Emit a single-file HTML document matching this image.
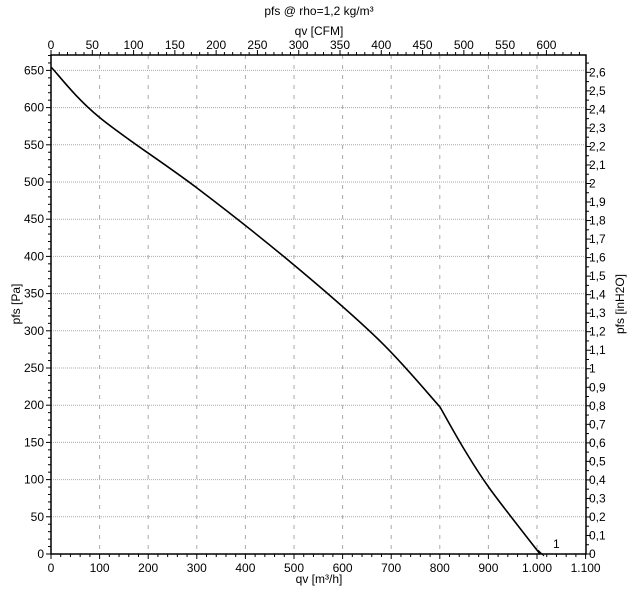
<!DOCTYPE html>
<html><head><style>
body{margin:0;background:#fff;}
svg{display:block;font-family:"Liberation Sans",Arial,sans-serif;}
</style></head><body>
<svg width="639" height="602" viewBox="0 0 639 602" xmlns="http://www.w3.org/2000/svg">
<rect width="639" height="602" fill="#fff"/>
<g id="grid" stroke="#aaa" stroke-width="1"></g>
<text x="319" y="15" font-size="12" text-anchor="middle">pfs @ rho=1,2 kg/m³</text>
<text x="319" y="35" font-size="12" text-anchor="middle">qv [CFM]</text>
<text x="319" y="583" font-size="12" text-anchor="middle">qv [m³/h]</text>
<text transform="translate(20,304) rotate(-90)" font-size="12" text-anchor="middle">pfs [Pa]</text>
<text transform="translate(624,304) rotate(-90)" font-size="12" text-anchor="middle">pfs [inH2O]</text>
<g id="ax"></g>
<path id="curve" fill="none" stroke="#000" stroke-width="1.6" d=""/>
<path d="M538,550 L544,556" stroke="#000" stroke-width="1"/>
<text x="553" y="548" font-size="12">1</text>
<rect x="51" y="55" width="535" height="499" fill="none" stroke="#000" stroke-width="1.5"/>
</svg>
<script>
const ns="http://www.w3.org/2000/svg";
const g=document.getElementById('grid'),ax=document.getElementById('ax');
function el(p,t,a,txt){const e=document.createElementNS(ns,t);for(const k in a)e.setAttribute(k,a[k]);if(txt!==undefined)e.textContent=txt;p.appendChild(e);return e;}
const X=q=>51+q*0.486, Y=p=>554-p*0.744;
for(let q=100;q<=1000;q+=100){el(g,'line',{x1:X(q),x2:X(q),y1:55,y2:554,'stroke-dasharray':'4,6'});}
for(let p=50;p<=650;p+=50){el(g,'line',{x1:51,x2:586,y1:Y(p),y2:Y(p),'stroke-dasharray':'1,1'});}
for(let q=0;q<=1100;q+=20){const big=q%100==0;el(ax,'line',{x1:X(q),x2:X(q),y1:554,y2:554+(big?5:3),stroke:'#000'});}
for(let q=0;q<=1100;q+=100){el(ax,'text',{x:X(q),y:572,'font-size':12,'text-anchor':'middle'},q==1000?'1.000':q==1100?'1.100':q);}
for(let c=0;c<=640;c+=10){const x=51+c*1.699*0.486;if(x>586.5)break;const big=c%50==0;el(ax,'line',{x1:x,x2:x,y1:55,y2:55-(big?5:3),stroke:'#000'});if(big)el(ax,'text',{x:x,y:49,'font-size':12,'text-anchor':'middle'},c);}
for(let p=0;p<=670;p+=10){const big=p%50==0;el(ax,'line',{x1:51,x2:51-(big?5:3),y1:Y(p),y2:Y(p),stroke:'#000'});if(big)el(ax,'text',{x:44,y:Y(p)+4,'font-size':12,'text-anchor':'end'},p);}
for(let i=0;i<=53;i++){const v=i*0.05;const y=554-v*249*0.744;if(y<55)break;const big=i%2==0;el(ax,'line',{x1:586,x2:586+(big?5:3),y1:y,y2:y,stroke:'#000'});if(big)el(ax,'text',{x:589,y:y+4,'font-size':12},(Math.round(v*10)/10).toString().replace('.',','));}
function spline(P,first){let d=first?'M'+P[0].join(','):'';
for(let i=0;i<P.length-1;i++){const p0=P[Math.max(0,i-1)],p1=P[i],p2=P[i+1],p3=P[Math.min(P.length-1,i+2)];
const c1=[p1[0]+(p2[0]-p0[0])/6,p1[1]+(p2[1]-p0[1])/6],c2=[p2[0]-(p3[0]-p1[0])/6,p2[1]-(p3[1]-p1[1])/6];
d+=' C'+c1.join(',')+' '+c2.join(',')+' '+p2.join(',');}return d;}
const d=spline([[51,67],[99,117],[197,188],[294,265],[380,341],[440,407]],true)+spline([[440,407],[464,449],[490,489],[540,554]],false);
document.getElementById('curve').setAttribute('d',d);
</script>
</body></html>
